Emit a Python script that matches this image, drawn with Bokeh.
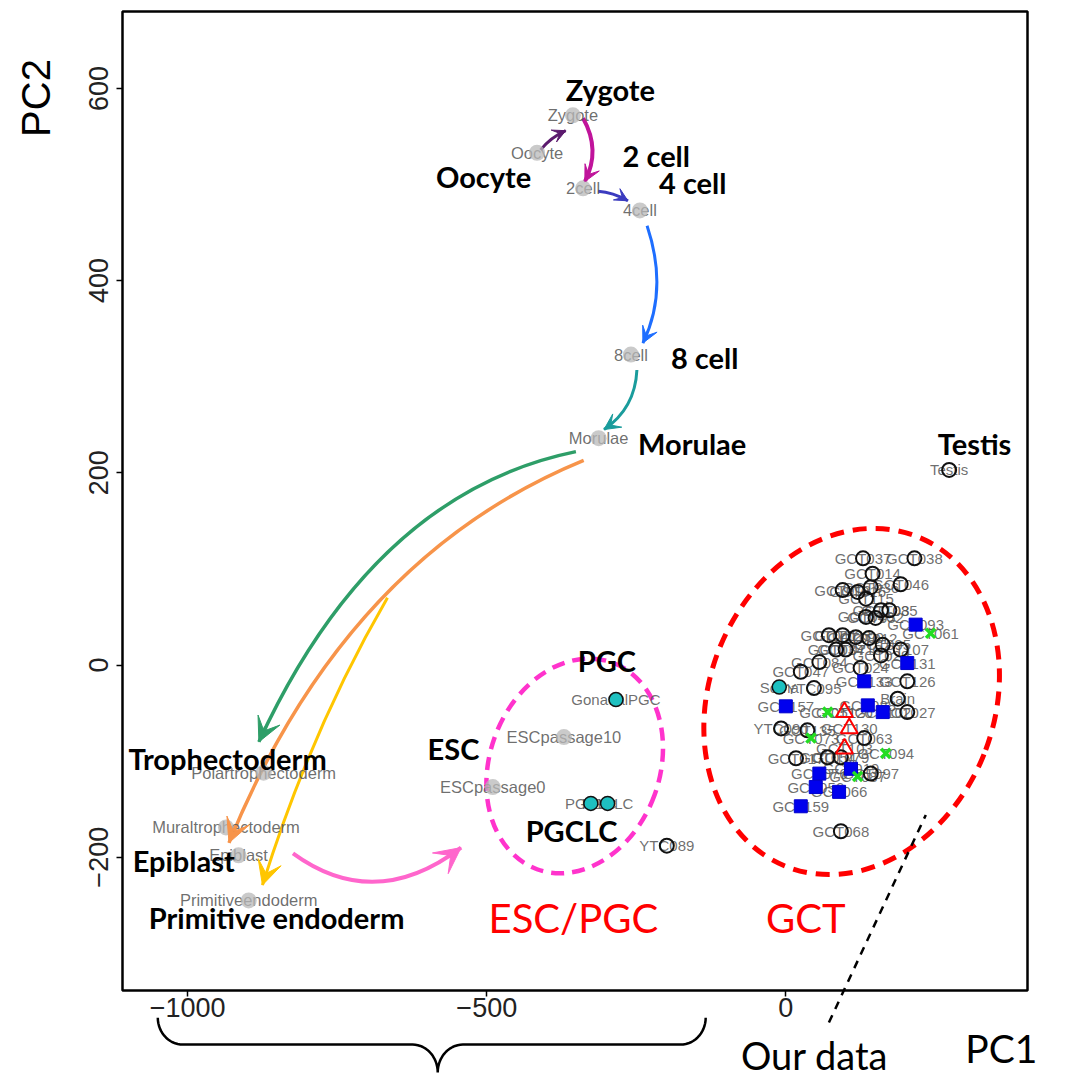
import numpy as np
from bokeh.plotting import figure
from bokeh.models import Range1d, FixedTicker, Label, Arrow, VeeHead, BoxAnnotation
from bokeh.core.properties import value
from bokeh.embed import file_html
from bokeh.resources import INLINE

# ---------------------------------------------------------------------------
# PCA coordinates (PC1, PC2)
# ---------------------------------------------------------------------------
# early embryo stages and ES cells (grey dots)
embryo_names = ["Oocyte", "Zygote", "2cell", "4cell", "8cell", "Morulae",
                "Polartrophectoderm", "Muraltrophectoderm", "Epiblast",
                "Primitiveendoderm", "ESCpassage0", "ESCpassage10"]
embryo_pc1 = [-416, -356, -339, -244, -259, -313, -873, -936, -915, -898, -490, -371]
embryo_pc2 = [533, 572, 496, 473, 323, 236, -112, -169, -198, -245, -127, -75]

# germ cells and somatic controls (cyan)
pgc_names = ["GonadalPGC", "PGCLC", "PGCLC", "Soma"]
pgc_pc1 = [-284, -326, -298, -11]
pgc_pc2 = [-36, -144, -144, -23]

# tumour / tissue samples drawn as open circles
circ_names = ["GCT037", "GCT038", "GCT014", "GCT046", "GCT018", "GCT016", "GCT036",
              "GCT115", "GCT108", "GCT035", "GCT040", "GCT052", "GCT041", "GCT123",
              "GCT099", "GCT012", "GCT095", "GCT107", "GCT034", "GCT071", "GCT029",
              "GCT084", "GCT047", "GCT024", "GCT126", "YTC095", "Brain", "GCT027",
              "YTC090", "GCT135", "GCT063", "GCT017", "GCT054", "GCT079", "GCT097",
              "GCT068", "Testis", "YTC089"]
circ_pc1 = [129, 215, 145, 192, 95, 120, 142, 134, 159, 173, 134, 150, 72, 95,
            117, 139, 162, 192, 84, 100, 159, 56, 25, 125, 203, 47, 187, 203,
            -8, 36, 131, 17, 70, 92, 142, 92, 273, -199]
circ_pc2 = [111, 111, 95, 84, 78, 76, 81, 69, 57, 57, 50, 49, 31, 31,
            29, 28, 21, 16, 16, 16, 10, 3, -7, -3, -17, -24, -35, -49,
            -66, -68, -76, -97, -96, -96, -113, -173, 203, -188]

# samples drawn as filled blue squares
sq_names = ["GCT093", "GCT131", "GCT133", "GCT157", "GCT088", "GCT102",
            "GCT076", "GCT019", "GCT056", "GCT066", "GCT159"]
sq_pc1 = [217, 203, 131, 0, 137, 162, 56, 109, 50, 89, 25]
sq_pc2 = [42, 2, -17, -43, -42, -49, -113, -108, -127, -132, -147]

# samples drawn as green crosses
x_names = ["GCT061", "GCT051", "GCT073", "GCT094", "GCT087"]
x_pc1 = [242, 70, 42, 167, 120]
x_pc2 = [33, -49, -76, -92, -116]

# samples drawn as red open triangles
tri_names = ["GCT120", "GCT130", "GCT103"]
tri_pc1 = [98, 106, 98]
tri_pc2 = [-49, -66, -87]

pc1_ticks = [-1000, -500, 0]
pc2_ticks = [-200, 0, 200, 400, 600]

# plotting box (data limits)
box_x = (-1109, 404)
box_y = (-338.7, 680)

# ---------------------------------------------------------------------------
# the canvas is one frame; the axes sit on the edges of the plotting box
p = figure(width=1066, height=1078,
           x_range=Range1d(-1312.96, 469.2), y_range=Range1d(-430.27, 691.45),
           output_backend="svg", toolbar_location=None,
           min_border=0)
p.background_fill_color = "white"
p.border_fill_color = "white"
p.outline_line_color = None
p.grid.visible = False

p.xaxis.fixed_location = box_y[0]
p.yaxis.fixed_location = box_x[0]
p.xaxis.bounds = box_x
p.yaxis.bounds = box_y
p.xaxis.ticker = FixedTicker(ticks=pc1_ticks)
p.yaxis.ticker = FixedTicker(ticks=pc2_ticks)
p.xaxis.major_label_overrides = {t: str(t).replace("-", "\u2212") for t in pc1_ticks}
for ax in (p.xaxis[0], p.yaxis[0]):
    ax.axis_line_color = None
    ax.major_tick_line_color = "black"
    ax.major_tick_line_width = 1.5
    ax.major_tick_out = 6
    ax.major_tick_in = 0
    ax.minor_tick_line_color = None
    ax.major_label_text_color = "#222222"
p.xaxis.major_label_text_font = "Liberation Sans"
p.xaxis.major_label_text_font_size = "27px"
p.xaxis.major_label_standoff = 2
p.yaxis.major_label_orientation = "vertical"
p.yaxis.major_label_text_font = "Liberation Sans"
p.yaxis.major_label_text_font_size = "27px"
p.yaxis.major_label_standoff = 8

p.add_layout(BoxAnnotation(left=box_x[0], right=box_x[1], bottom=box_y[0], top=box_y[1],
                           fill_color=None, line_color="black", line_alpha=1.0,
                           line_width=2.5))

# ---------------------------------------------------------------------------
# group outlines
p.ellipse(x=[-353], y=[-105], width=170, height=220, angle=-0.35,
          width_units="screen", height_units="screen",
          fill_color=None, line_color="#FF33CC", line_width=4.5, line_dash="13 8")
p.ellipse(x=[110], y=[-38], width=285, height=355, angle=-0.38,
          width_units="screen", height_units="screen",
          fill_color=None, line_color="#FF0000", line_width=5, line_dash="14 9")

# developmental trajectory arrows (quadratic curves)
arr_x0 = [-410, -339, -314, -232, -249, -351, -338, -666, -824]
arr_y0 = [536, 569, 493, 457, 307, 222, 213, 70, -196]
arr_cx = [-393, -309, -289, -196, -252, -689, -737, -793, -687]
arr_cy = [549, 536, 492, 390, 267, 179, 111, -66, -258]
arr_x1 = [-368, -336, -264, -239, -304, -881, -931, -875, -543]
arr_y1 = [556, 503, 483, 335, 245, -80, -185, -229, -190]
arr_color = ["#5C1A6E", "#C0149B", "#3B3BBF", "#1E6EFF", "#1A9C9C",
             "#2E9E68", "#F7944A", "#FFC600", "#FF66CC"]
arr_width = [3, 4, 3, 3, 3, 3.5, 3.5, 3, 4]
arr_head = [13, 16, 13, 16, 16, 24, 24, 24, 26]

p.quadratic(x0=arr_x0, y0=arr_y0, x1=arr_x1, y1=arr_y1, cx=arr_cx, cy=arr_cy,
            line_color=arr_color, line_width=arr_width)
for x1, y1, cx, cy, c, w, h in zip(arr_x1, arr_y1, arr_cx, arr_cy, arr_color, arr_width, arr_head):
    xs = x1 - 0.06 * (x1 - cx)
    ys = y1 - 0.06 * (y1 - cy)
    p.add_layout(Arrow(x_start=xs, y_start=ys, x_end=x1, y_end=y1,
                       line_color=c, line_width=w,
                       end=VeeHead(size=h, fill_color=c, line_color=c, line_width=1)))

# ---------------------------------------------------------------------------
# point labels and markers
lab_font = value("Liberation Sans")
p.text(x=embryo_pc1, y=embryo_pc2, text=embryo_names, text_font=lab_font,
       text_font_size="16.5px", text_color="#555555", text_alpha=0.85,
       text_align="center", text_baseline="middle")
p.text(x=pgc_pc1, y=pgc_pc2, text=pgc_names, text_font=lab_font,
       text_font_size="15px", text_color="#555555", text_alpha=0.85,
       text_align="center", text_baseline="middle")
for xs_, ys_, ns_ in ((circ_pc1, circ_pc2, circ_names), (sq_pc1, sq_pc2, sq_names),
                      (x_pc1, x_pc2, x_names), (tri_pc1, tri_pc2, tri_names)):
    p.text(x=xs_, y=ys_, text=ns_, text_font=lab_font,
           text_font_size="15px", text_color="#555555", text_alpha=0.85,
           text_align="center", text_baseline="middle")

p.scatter(embryo_pc1, embryo_pc2, size=16, marker="circle",
          fill_color="#B8B8B8", fill_alpha=0.75, line_color=None)
p.scatter(circ_pc1, circ_pc2, size=14, marker="circle",
          fill_color=None, line_color="#111111", line_width=2)
p.scatter(sq_pc1, sq_pc2, size=13, marker="square",
          fill_color="#0000EE", line_color="#0000CC", line_width=1)
p.scatter(x_pc1, x_pc2, size=13, marker="x",
          line_color="#22DD22", line_width=3.5)
p.scatter(tri_pc1, tri_pc2, size=17, marker="triangle",
          fill_color=None, line_color="#FF0000", line_width=2)
p.scatter(pgc_pc1, pgc_pc2, size=14, marker="circle",
          fill_color="#1EC0C0", line_color="#111111", line_width=1.5)

# ---------------------------------------------------------------------------
# stage / group annotations
bold_font = "Lato"
stage_text = ["Zygote", "2 cell", "Oocyte", "4 cell", "8 cell", "Morulae", "Testis",
              "PGC", "ESC", "Trophectoderm", "PGCLC", "Epiblast", "Primitive endoderm"]
stage_x = [-368, -273, -585, -212, -192, -247, 254, -348, -599, -1099, -435, -1092, -1065]
stage_y = [599, 530, 508, 502, 320, 231, 230, 5, -87, -97, -172, -203, -263]
for t, x, y in zip(stage_text, stage_x, stage_y):
    p.add_layout(Label(x=x, y=y, text=t, text_font=bold_font, text_font_style="bold",
                       text_font_size="29px", text_color="black",
                       text_align="left", text_baseline="middle"))

for t, x in (("ESC/PGC", -497), ("GCT", -33)):
    p.add_layout(Label(x=x, y=-263, text=t, text_font=bold_font,
                       text_font_size="40px", text_color="#FF0000",
                       text_align="left", text_baseline="middle"))

p.add_layout(Label(x=300, y=-399, text="PC1", text_font=bold_font,
                   text_font_size="39px", text_color="black",
                   text_align="left", text_baseline="middle"))
p.add_layout(Label(x=-75, y=-406, text="Our data", text_font=bold_font,
                   text_font_size="38px", text_color="black",
                   text_align="left", text_baseline="middle"))
p.add_layout(Label(x=-1254, y=590, text="PC2", angle=np.pi / 2,
                   text_font="Liberation Sans",
                   text_font_size="40px", text_color="black",
                   text_align="center", text_baseline="middle"))

# pointer from the caption to the tumour cluster
p.line(x=[72, 234], y=[-372, -156], line_color="black", line_width=2.5, line_dash="8 7")

# brace under the reference range of PC1
def brace(xl, xr, xt, ytop, ymid, ytip, rx):
    t = np.linspace(0, np.pi / 2, 16)
    ry1 = ytop - ymid
    ry2 = ymid - ytip
    px = np.concatenate([xl + rx - rx * np.cos(t),
                         xt - rx + rx * np.sin(t),
                         xt + rx - rx * np.cos(t),
                         xr - rx + rx * np.sin(t)])
    py = np.concatenate([ytop - ry1 * np.sin(t),
                         ytip + ry2 * np.cos(t),
                         ytip + ry2 * np.sin(t),
                         ytop - ry1 * np.cos(t)])
    return px, py

bx, by = brace(-1050, -134, -582, -367, -395, -424, 42)
p.line(x=bx, y=by, line_color="black", line_width=2.5)

open("out.html", "w").write(file_html(p, INLINE))
